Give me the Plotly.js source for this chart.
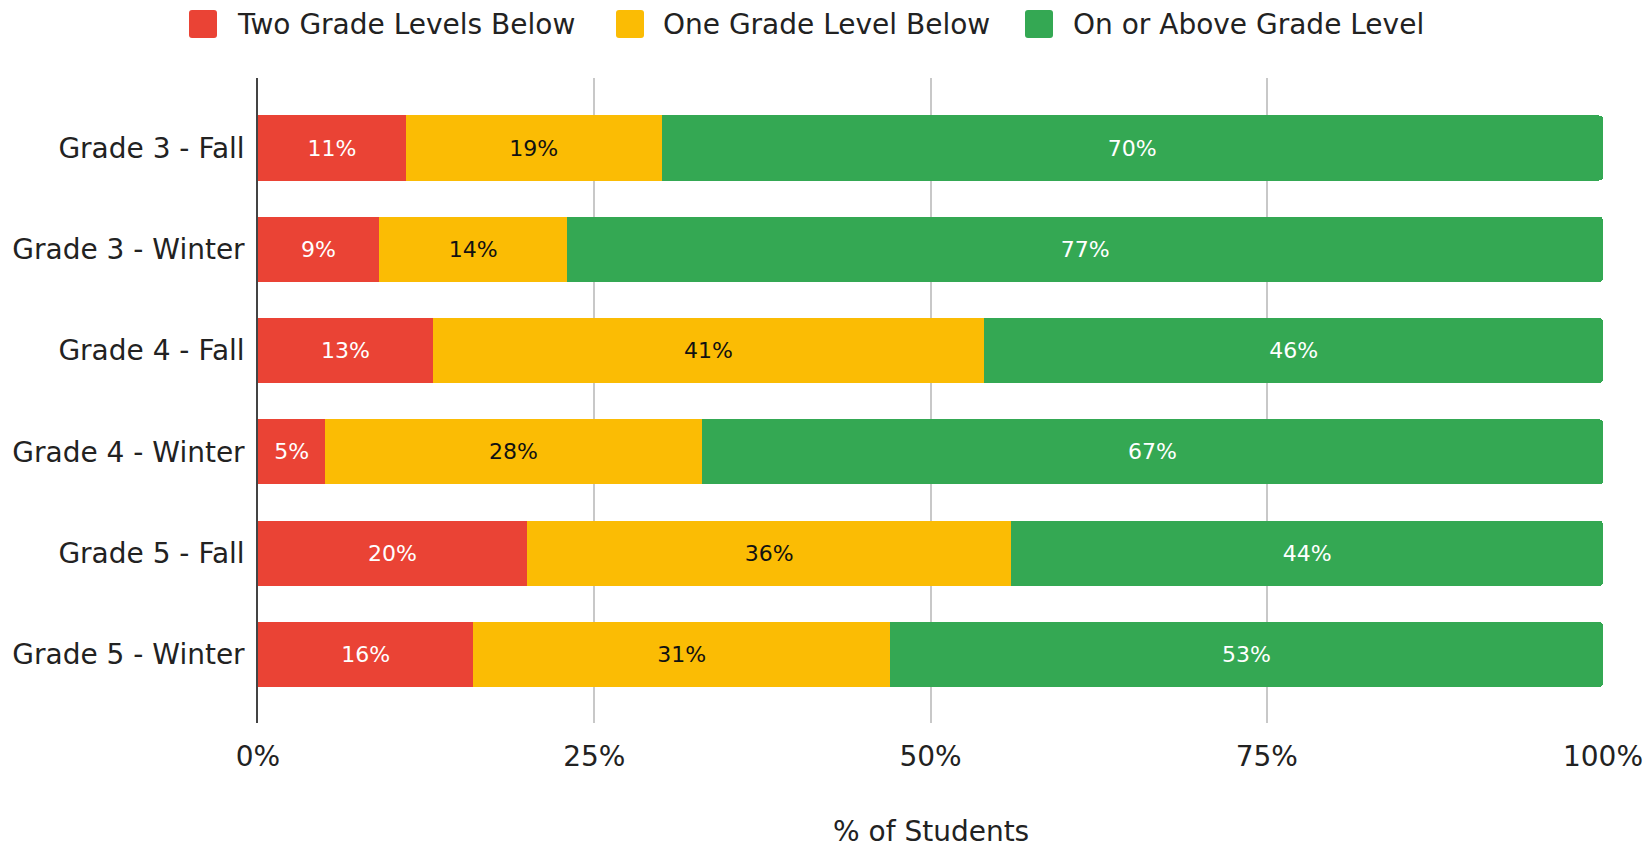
<!DOCTYPE html>
<html>
<head>
<meta charset="utf-8">
<script src="https://cdn.plot.ly/plotly-3.0.1.min.js"></script>
<style>html,body{margin:0;padding:0;background:#fff;}#chart{width:1646px;height:850px;}</style>
</head>
<body>
<div id="chart"></div>
<script>
const categories = ["Grade 3 - Fall", "Grade 3 - Winter", "Grade 4 - Fall", "Grade 4 - Winter", "Grade 5 - Fall", "Grade 5 - Winter"];
const seriesNames = ["Two Grade Levels Below", "One Grade Level Below", "On or Above Grade Level"];
const twoBelow = [11, 9, 13, 5, 20, 16];
const oneBelow = [19, 14, 41, 28, 36, 31];
const onAbove = [70, 77, 46, 67, 44, 53];
const xTickVals = [0, 25, 50, 75, 100];
const xTickText = ["0%", "25%", "50%", "75%", "100%"];
const axisTitle = "% of Students";

const colors = ["#ea4335", "#fbbc04", "#34a853"];
const labelColors = ["#ffffff", "#111111", "#ffffff"];
const seriesValues = [twoBelow, oneBelow, onAbove];
const FONT = "DejaVu Sans, Verdana, sans-serif";

const W = 1646, H = 850;
const mL = 258, mR = 43, mT = 78, mB = 127;
const pw = W - mL - mR, ph = H - mT - mB;
const px2x = p => (p - mL) / pw;
const py2y = p => (H - mB - p) / ph;

const traces = seriesValues.map((vals, i) => ({
  type: 'bar',
  orientation: 'h',
  name: seriesNames[i],
  y: categories,
  x: vals,
  marker: {color: colors[i]},
  text: vals.map(v => v + '%'),
  textposition: 'inside',
  insidetextanchor: 'middle',
  textfont: {family: FONT, size: 22, color: labelColors[i]},
  hoverinfo: 'name+x',
  showlegend: false
}));

// Legend drawn as shapes + annotations
const legendSquares = [189, 616, 1025];
const legendTextX = [237, 663, 1073];
const legendCY = 24;
const shapes = [];
const annotations = [];
seriesNames.forEach((n, i) => {
  shapes.push({
    type: 'path', xref: 'paper', yref: 'paper',
    xsizemode: 'pixel', ysizemode: 'pixel',
    xanchor: px2x(legendSquares[i]), yanchor: py2y(legendCY),
    path: 'M3,-14 H25 Q28,-14 28,-11 V11 Q28,14 25,14 H3 Q0,14 0,11 V-11 Q0,-14 3,-14 Z',
    fillcolor: colors[i], line: {width: 0}
  });
  annotations.push({
    xref: 'paper', yref: 'paper', x: px2x(legendTextX[i] - 2), y: py2y(legendCY),
    xanchor: 'left', yanchor: 'middle', showarrow: false,
    text: n, font: {family: FONT, size: 28, color: '#222222'}
  });
});
// x-axis title
annotations.push({
  xref: 'paper', yref: 'paper', x: 0.5, y: py2y(849),
  xanchor: 'center', yanchor: 'bottom', showarrow: false, borderpad: 0,
  text: axisTitle, font: {family: FONT, size: 28, color: '#222222'}
});

const layout = {
  width: W, height: H,
  margin: {l: mL, r: mR, t: mT, b: mB, pad: 0},
  paper_bgcolor: '#ffffff', plot_bgcolor: '#ffffff',
  barmode: 'stack',
  bargap: 0.358,
  barcornerradius: 4,
  showlegend: false,
  font: {family: FONT, size: 28, color: '#222222'},
  xaxis: {
    range: [0, 100],
    tickvals: xTickVals, ticktext: xTickText,
    showgrid: true, gridcolor: '#c8c8c8', gridwidth: 1.5,
    zeroline: false, showline: false,
    ticks: '', ticklabelstandoff: 14,
    tickfont: {family: FONT, size: 28, color: '#222222'},
    automargin: false, fixedrange: true
  },
  yaxis: {
    type: 'category',
    range: [5.676, -0.691],
    showgrid: false, zeroline: false,
    showline: true, linecolor: '#444444', linewidth: 1.5,
    ticks: '', ticklabelstandoff: 6,
    tickfont: {family: FONT, size: 28, color: '#222222'},
    automargin: false, fixedrange: true
  },
  shapes: shapes,
  annotations: annotations
};

Plotly.newPlot('chart', traces, layout, {displayModeBar: false, staticPlot: false});
</script>
</body>
</html>
